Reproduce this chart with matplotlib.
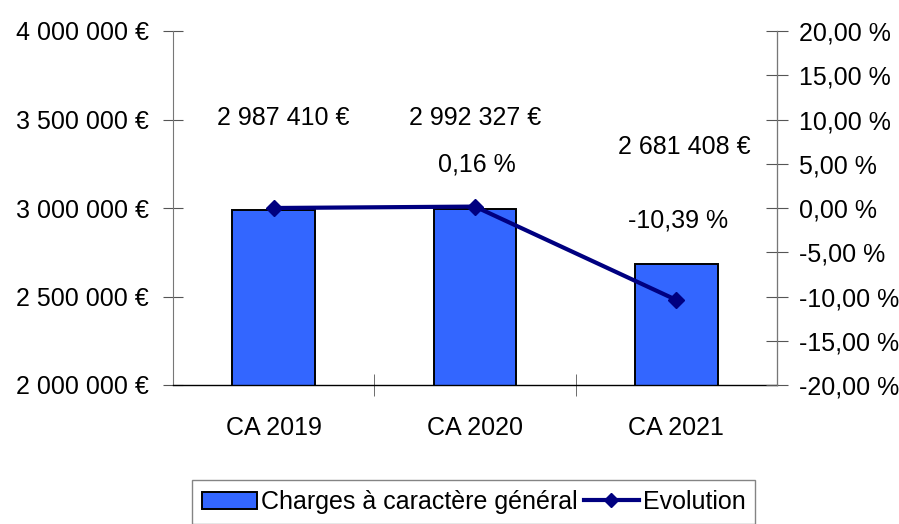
import matplotlib
matplotlib.use("Agg")
import matplotlib.pyplot as plt
from matplotlib.ticker import FixedLocator, FuncFormatter
from matplotlib.patches import Patch
from matplotlib.lines import Line2D

plt.rcParams['font.family'] = ['Liberation Sans', 'DejaVu Sans']

categories = ["CA 2019", "CA 2020", "CA 2021"]
charges = [2987410, 2992327, 2681408]
evolution = [0.0, 0.16, -10.39]
charge_labels = ["2 987 410 €", "2 992 327 €", "2 681 408 €"]
evolution_labels = ["", "0,16 %", "-10,39 %"]
left_ticks = [2000000, 2500000, 3000000, 3500000, 4000000]
right_ticks = [-20, -15, -10, -5, 0, 5, 10, 15, 20]

BAR_COLOR = "#3366FF"
LINE_COLOR = "#000080"
FS = 18

fig = plt.figure(figsize=(8.99, 5.24), dpi=100)
ax = fig.add_axes([173/899, 1-385/524, 604/899, 354/524])
ax2 = ax.twinx()

x = list(range(len(categories)))
ax.bar(x, charges, width=0.41, color=BAR_COLOR, edgecolor="black", linewidth=1.4, zorder=2)
ax.set_xlim(-0.5, 2.5)
ax.set_ylim(2000000, 4000000)
ax.yaxis.set_major_locator(FixedLocator(left_ticks))

def euro(v, pos):
    s = f"{int(round(v)):,}".replace(",", " ")
    return s + " €"
ax.yaxis.set_major_formatter(FuncFormatter(euro))

ax2.plot(x, evolution, color=LINE_COLOR, linewidth=3, marker="D", markersize=8, zorder=3)
ax2.set_ylim(-20, 20)
ax2.yaxis.set_major_locator(FixedLocator(right_ticks))
ax2.yaxis.set_major_formatter(FuncFormatter(lambda v, p: f"{v:.2f}".replace(".", ",") + " %"))

# Category ticks
ax.set_xticks(x)
ax.set_xticklabels(categories, fontsize=FS)
ax.set_xticks([0.5, 1.5], minor=True)
ax.tick_params(axis='x', which='major', length=0, pad=22)
ax.tick_params(axis='x', which='minor', length=16, direction='inout', color='#555555')

ax.tick_params(axis='y', labelsize=FS, direction='inout', length=15, pad=10, color='#555555')
ax2.tick_params(axis='y', labelsize=FS, direction='inout', length=16, pad=8, color='#555555')

for a in (ax, ax2):
    a.spines['top'].set_visible(False)
ax.spines['left'].set_color('#777777')
ax2.spines['right'].set_color('#777777')
ax2.spines['left'].set_visible(False)
ax2.spines['bottom'].set_visible(False)
ax.spines['bottom'].set_color('black')
ax.spines['bottom'].set_linewidth(1.0)

# Data labels
bar_label_y = [3510000, 3510000, 3343000]
for xi, lab, ly, xo in zip(x, charge_labels, bar_label_y, [0.05, 0.0, 0.04]):
    ax.text(xi + xo, ly, lab, ha='center', va='center', fontsize=FS, zorder=5)
evo_label_y = [None, 4.9, -1.4]
for xi, lab, ly in zip(x, evolution_labels, evo_label_y):
    if lab:
        ax2.text(xi + 0.01, ly, lab, ha='center', va='center', fontsize=FS, zorder=5)

handles = [
    Patch(facecolor=BAR_COLOR, edgecolor='black', linewidth=1.4),
    Line2D([0], [0], color=LINE_COLOR, linewidth=3, marker='D', markersize=7),
]
leg = fig.legend(handles, ["Charges à caractère général", "Evolution"],
                 loc='upper center', bbox_to_anchor=(473.5/899, 1-480/524),
                 ncol=2, fontsize=FS, frameon=True, fancybox=False,
                 handlelength=2.2, handletextpad=0.16, columnspacing=0.25,
                 borderpad=0.4, borderaxespad=0)
leg.get_frame().set_edgecolor('#666666')
leg.get_frame().set_linewidth(1.0)

fig.savefig("out.png", dpi=100)
